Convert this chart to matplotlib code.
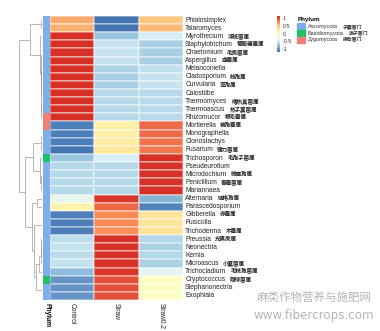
import numpy as np
import matplotlib
matplotlib.use("Agg")
import matplotlib.pyplot as plt
from matplotlib.colors import LinearSegmentedColormap, ListedColormap
from matplotlib.transforms import offset_copy

# ---------------- data ----------------
genera = ["Phialosimplex", "Talaromyces", "Myrothecium", "Staphylotrichum",
          "Chaetomium", "Aspergillus", "Melanconiella", "Cladosporium",
          "Curvularia", "Calostilbe", "Thermomyces", "Thermoascus",
          "Rhizomucor", "Mortierella", "Monographella", "Clonostachys",
          "Fusarium", "Trichosporon", "Pseudeurotium", "Microdochium",
          "Penicillium", "Mariannaea", "Alternaria", "Parascedosporium",
          "Gibberella", "Fusicolla", "Trichoderma", "Preussia",
          "Neonectria", "Kernia", "Microascus", "Trichocladium",
          "Cryptococcus", "Stephanonectria", "Exophiala"]
genera_cn = ["", "", "漆斑菌属", "葡萄穗霉属", "毛壳菌属", "曲霉属", "", "枝孢属",
             "弯孢属", "", "嗜热真菌属", "热子囊菌属", "根毛霉属", "被孢霉属", "", "",
             "镰刀菌属", "毛孢子菌属", "", "微座孢属", "青霉菌属", "", "链格孢属", "",
             "赤霉属", "", "木霉属", "光黑壳属", "", "", "小囊菌属", "毛枝孢菌属",
             "隐球菌属", "", ""]
samples = ["Control", "Straw", "Straw0.2"]

control = [0.62, 0.60, 1.15, 1.15, 1.15, 1.15, 1.15, 1.15, 1.15, 1.15, 1.15, 1.15,
           1.15, -1.10, -1.10, -1.10, -1.15, -0.72, -0.58, -0.58, -0.58, -0.58, -0.30, 0.15,
           -1.10, -1.10, -1.10, -0.55, -0.52, -0.55, -0.52, -0.78, -0.98, -0.98, -0.98]
straw = [-1.15, -1.15, -0.72, -0.50, -0.50, -0.50, -0.62, -0.65, -0.65, -0.58, -0.58, -0.58,
         -0.58, 0.20, 0.20, 0.22, 0.30, -0.42, -0.58, -0.58, -0.58, -0.58, 1.12, 0.92,
         0.78, 0.78, 0.76, 1.15, 1.15, 1.15, 1.15, 1.12, 1.02, 1.02, 1.02]
straw02 = [0.50, 0.55, -0.43, -0.65, -0.65, -0.65, -0.53, -0.50, -0.50, -0.57, -0.57, -0.57,
           -0.57, 0.90, 0.90, 0.88, 0.85, 1.15, 1.15, 1.15, 1.15, 1.15, -0.82, -1.07,
           0.32, 0.32, 0.34, -0.60, -0.63, -0.60, -0.63, -0.34, -0.04, -0.04, -0.04]

phylum = ["Ascomycota"] * 12 + ["Zygomycota"] * 2 + ["Ascomycota"] * 3 + ["Basidiomycota"] + \
         ["Ascomycota"] * 14 + ["Basidiomycota"] + ["Ascomycota"] * 2
phyla = ["Ascomycota", "Basidiomycota", "Zygomycota"]
phyla_cn = ["子囊菌门", "担子菌门", "接合菌门"]
phyla_colors = ["#7EAEEF", "#1DC266", "#F07F78"]

# ---------------- figure ----------------
plt.rcParams['font.family'] = ['Liberation Sans', 'Noto Sans CJK SC', 'DejaVu Sans']
CJK = ['Noto Sans CJK SC', 'DejaVu Sans']
W, H = 380, 331
fig = plt.figure(figsize=(W / 100, H / 100), dpi=100)
renderer = fig.canvas.get_renderer()

def rect(x0, y0, x1, y1):
    return [x0 / W, 1 - y1 / H, (x1 - x0) / W, (y1 - y0) / H]

def text_pair(ax_or_fig, x, y, latin, cn, size, size_cn, transform, color="#222222", gap=4):
    t = ax_or_fig.text(x, y, latin, fontsize=size, va="center", ha="left", color=color,
                       transform=transform)
    if cn:
        w = t.get_window_extent(renderer).width
        tr = offset_copy(transform, fig=fig, x=w + gap, y=0, units="dots")
        ax_or_fig.text(x, y, cn, fontsize=size_cn, va="center", ha="left", color=color,
                       transform=tr, family=CJK, fontweight="bold")

top, bot = 16, 300
ax = fig.add_axes(rect(50, top, 183, bot))
axp = fig.add_axes(rect(43, top, 50, bot))
axd = fig.add_axes(rect(19, top, 42, bot))

mat = np.array([control, straw, straw02]).T
n = mat.shape[0]
cmap = LinearSegmentedColormap.from_list(
    "pheat", ["#4575B4", "#91BFDB", "#E0F3F8", "#FFFFBF", "#FEE090", "#FC8D59", "#D73027"])
ax.pcolormesh(np.arange(4), np.arange(n + 1), mat, cmap=cmap, vmin=-1.15, vmax=1.15,
              edgecolor=(1, 1, 1, 0.35), linewidth=0.25)
ax.set_ylim(n, 0)
ax.set_xlim(0, 3)
ax.axis("off")
for i, (g, c) in enumerate(zip(genera, genera_cn)):
    text_pair(ax, 3.05, i + 0.5, g, c, 4.8, 4.0, ax.transData)
for j, s in enumerate(samples):
    ax.text(j + 0.5, n + 0.35, s, rotation=270, fontsize=4.8, va="top", ha="center",
            color="#222222")

# phylum annotation
pidx = np.array([phyla.index(p) for p in phylum])[:, None]
axp.pcolormesh(np.arange(2), np.arange(n + 1), pidx, cmap=ListedColormap(phyla_colors),
               vmin=-0.5, vmax=2.5)
axp.set_ylim(n, 0)
axp.axis("off")
axp.text(0.5, n + 0.35, "Phylum", rotation=270, fontsize=4.8, fontweight="bold",
         va="top", ha="center")

# dendrogram: order-preserving average linkage
clusters = [([i], i + 0.5, 0.0) for i in range(n)]
segs = []
def cdist(a, b):
    return np.mean([np.linalg.norm(mat[p] - mat[q]) for p in a for q in b])
while len(clusters) > 1:
    d = [cdist(clusters[k][0], clusters[k + 1][0]) for k in range(len(clusters) - 1)]
    k = int(np.argmin(d))
    (ra, ya, ha), (rb, yb, hb) = clusters[k], clusters[k + 1]
    h = max(d[k], ha, hb) + 0.02
    segs += [((ha, h), (ya, ya)), ((hb, h), (yb, yb)), ((h, h), (ya, yb))]
    clusters[k:k + 2] = [(ra + rb, (ya + yb) / 2, h)]
for xs, ys in segs:
    axd.plot(xs, ys, color="#999999", lw=0.5, solid_capstyle="butt")
hmax = clusters[0][2]
axd.set_xlim(hmax * 1.02, 0)
axd.set_ylim(n, 0)
axd.axis("off")

# colour legend
axc = fig.add_axes(rect(277, 16, 280, 52))
grad = np.linspace(1.15, -1.15, 100)[:, None]
axc.imshow(grad, aspect="auto", cmap=cmap, vmin=-1.15, vmax=1.15, extent=[0, 1, -1.15, 1.15])
axc.set_xticks([])
axc.set_yticks([])
for s in axc.spines.values():
    s.set_visible(False)
for v, lab in zip([1, 0.5, 0, -0.5, -1], ["1", "0.5", "0", "-0.5", "-1"]):
    axc.text(1.9, v, lab, fontsize=3.8, va="center", ha="left", color="#333333")

# phylum legend
fig.text(298 / W, 1 - 20 / H, "Phylum", fontsize=4.5, fontweight="bold", va="center")
for k, (p, c, cn) in enumerate(zip(phyla, phyla_colors, phyla_cn)):
    y0 = 23 + k * 6.8
    fig.patches.append(plt.Rectangle((297 / W, 1 - (y0 + 6.5) / H), 8 / W, 6.5 / H,
                                     transform=fig.transFigure, color=c))
    text_pair(fig, 308 / W, 1 - (y0 + 3.3) / H, p, cn, 4.0, 3.5, fig.transFigure,
              color="#333333", gap=5)

# watermark
fig.text(314 / W, 1 - 297 / H, "麻类作物营养与施肥网", fontsize=8.3, color="#B5B5B5",
         ha="center", va="center", family=["Noto Sans CJK SC"])
fig.text(314 / W, 1 - 316 / H, "www.fibercrops.com", fontsize=8.6, color="#B5B5B5",
         ha="center", va="center", family=["DejaVu Sans"])

fig.savefig("out.png", dpi=100)
